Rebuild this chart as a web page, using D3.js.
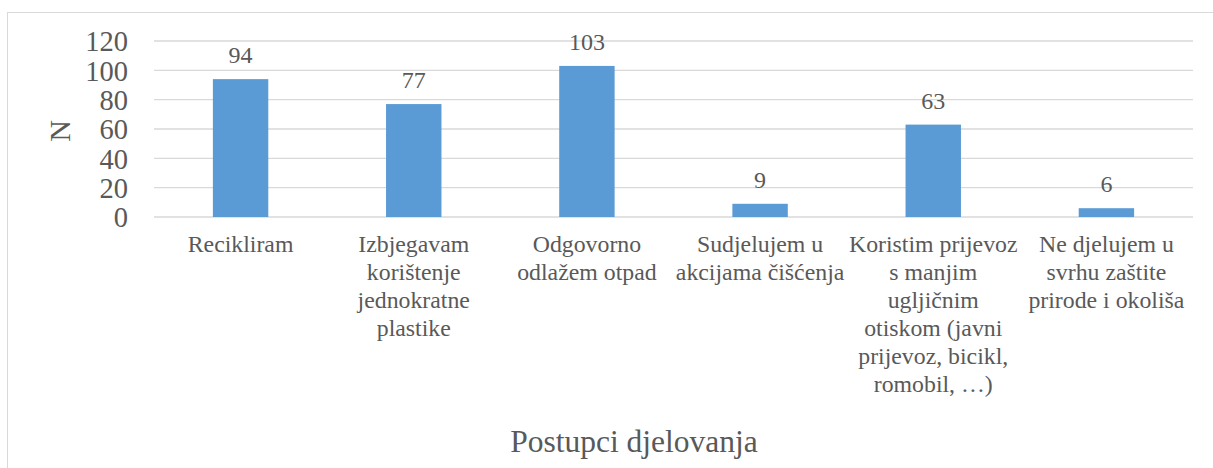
<!DOCTYPE html>
<html>
<head>
<meta charset="utf-8">
<script src="https://cdn.jsdelivr.net/npm/d3@7"></script>
</head>
<body style="margin:0; background:#fff">
<svg class="chart-svg"></svg>
<script>
var categories = [
	['Recikliram'],
	['Izbjegavam', 'korištenje', 'jednokratne', 'plastike'],
	['Odgovorno', 'odlažem otpad'],
	['Sudjelujem u', 'akcijama čišćenja'],
	['Koristim prijevoz', 's manjim', 'ugljičnim', 'otiskom (javni', 'prijevoz, bicikl,', 'romobil, …)'],
	['Ne djelujem u', 'svrhu zaštite', 'prirode i okoliša']
];
var values = [94, 77, 103, 9, 63, 6];
var y_ticks = [0, 20, 40, 60, 80, 100, 120];
var y_title = 'N';
var x_title = 'Postupci djelovanja';

var width = 1213, height = 468;
var plot_left = 154, plot_right = 1193, plot_top = 41, plot_bottom = 217;
var font = 'Liberation Serif';
var text_col = '#595959';

var svg = d3.select('.chart-svg').attr('width', width).attr('height', height);

// chart border
svg.append('rect')
	.attr('x', 7.5).attr('y', 12.5)
	.attr('width', 1220).attr('height', 470)
	.attr('fill', 'none').attr('stroke', '#d9d9d9');

var x = d3.scaleBand().domain(d3.range(categories.length)).range([plot_left, plot_right]).paddingInner(0.68).paddingOuter(0.34);
var y = d3.scaleLinear().domain([0, 120]).range([plot_bottom, plot_top]);

// gridlines
svg.selectAll('.grid').data(y_ticks).enter()
	.append('line')
	.attr('x1', plot_left).attr('x2', plot_right)
	.attr('y1', function(d) { return y(d); })
	.attr('y2', function(d) { return y(d); })
	.attr('stroke', '#d9d9d9').attr('stroke-width', 1.3);

// y axis labels
var y_axis = svg.append('g').attr('transform', 'translate(' + (plot_left - 26) + ',0)')
	.call(d3.axisLeft(y).tickValues(y_ticks).tickSize(0).tickPadding(0));
y_axis.select('.domain').remove();
y_axis.attr('font-family', font).attr('font-size', 28.5);
y_axis.selectAll('text')
	.attr('fill', text_col)
	.attr('dy', '0.34em');

svg.append('text')
	.attr('transform', 'translate(70,' + ((plot_top + plot_bottom) / 2 + 2) + ') rotate(-90)')
	.attr('text-anchor', 'middle')
	.attr('font-family', font)
	.attr('font-size', 30)
	.attr('fill', text_col)
	.text(y_title);

// bars
svg.selectAll('.bar').data(values).enter()
	.append('rect')
	.attr('x', function(d, i) { return x(i); })
	.attr('width', x.bandwidth())
	.attr('y', function(d) { return y(d); })
	.attr('height', function(d) { return plot_bottom - y(d); })
	.attr('fill', '#5b9bd5');

// data labels
svg.selectAll('.val').data(values).enter()
	.append('text')
	.attr('x', function(d, i) { return x(i) + x.bandwidth() / 2; })
	.attr('y', function(d) { return y(d) - 16; })
	.attr('text-anchor', 'middle')
	.attr('font-family', font)
	.attr('font-size', 24)
	.attr('fill', text_col)
	.text(function(d) { return d; });

// category labels
var cat = svg.selectAll('.cat').data(categories).enter()
	.append('text')
	.attr('text-anchor', 'middle')
	.attr('font-family', font)
	.attr('font-size', 23.8)
	.attr('fill', text_col);
cat.selectAll('tspan').data(function(d, i) { return d.map(function(s) { return { s: s, i: i }; }); }).enter()
	.append('tspan')
	.attr('x', function(d) { return x(d.i) + x.bandwidth() / 2; })
	.attr('y', function(d, j) { return 252 + j * 28; })
	.text(function(d) { return d.s; });

svg.append('text')
	.attr('x', 634).attr('y', 452)
	.attr('text-anchor', 'middle')
	.attr('font-family', font)
	.attr('font-size', 31.5)
	.attr('fill', text_col)
	.text(x_title);
</script>
</body>
</html>
